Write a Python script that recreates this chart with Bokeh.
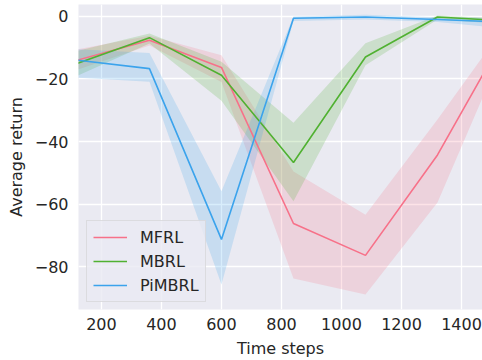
from bokeh.plotting import figure
from bokeh.models import Range1d, FixedTicker, Legend, LegendItem
from bokeh.embed import file_html
from bokeh.resources import INLINE

steps = [120, 360, 600, 840, 1080, 1320, 1560]

mfrl_mean = [-14.0, -7.6, -16.3, -66.2, -76.4, -44.3, -3.5]
mfrl_lo = [-17.0, -9.3, -21.0, -83.8, -88.9, -59.5, -6.0]
mfrl_hi = [-10.5, -6.2, -12.4, -49.6, -63.4, -33.0, -1.0]

mbrl_mean = [-15.0, -6.8, -18.8, -46.7, -13.0, -0.2, -1.5]
mbrl_lo = [-19.0, -8.7, -27.0, -59.1, -15.6, -1.0, -2.5]
mbrl_hi = [-11.0, -5.5, -14.5, -34.0, -8.6, 0.3, -0.8]

pimbrl_mean = [-14.0, -16.7, -71.3, -0.6, -0.2, -1.0, -1.9]
pimbrl_lo = [-19.6, -20.9, -85.7, -1.5, -1.0, -1.8, -4.0]
pimbrl_hi = [-10.5, -11.7, -55.9, 0.0, 0.5, -0.3, -0.5]

names = ["MFRL", "MBRL", "PiMBRL"]
colors = ["#f77189", "#50b131", "#3ba3ec"]
x_ticks = [200, 400, 600, 800, 1000, 1200, 1400]
y_ticks = [0, -20, -40, -60, -80]

TXT = "#262626"
FONT = "DejaVu Sans"

p = figure(width=482, height=360, output_backend="svg", toolbar_location=None,
           x_range=Range1d(123.5, 1470), y_range=Range1d(-93.7, 3.8),
           min_border_left=78, min_border_right=0, min_border_top=4, min_border_bottom=51)
p.background_fill_color = "#EAEAF2"
p.border_fill_color = "white"
p.outline_line_color = None

for ax in (p.xaxis[0], p.yaxis[0]):
    ax.axis_line_color = None
    ax.major_tick_line_color = None
    ax.minor_tick_line_color = None
    ax.major_tick_out = 0
    ax.major_tick_in = 0
    ax.major_label_text_font = FONT
    ax.major_label_text_font_size = "16px"
    ax.major_label_text_color = TXT
    ax.axis_label_text_font = FONT
    ax.axis_label_text_font_size = "16px"
    ax.axis_label_text_font_style = "normal"
    ax.axis_label_text_color = TXT

p.xaxis.ticker = FixedTicker(ticks=x_ticks)
p.yaxis.ticker = FixedTicker(ticks=y_ticks)
p.yaxis.major_label_overrides = {t: (("\u2212" + str(abs(t))) if t < 0 else str(t)) for t in y_ticks}
p.xaxis.axis_label = "Time steps"
p.yaxis.axis_label = "Average return"
p.xaxis.major_label_standoff = 8
p.xaxis.axis_label_standoff = 6
p.yaxis.major_label_standoff = 10
p.yaxis.axis_label_standoff = 6

p.xgrid.grid_line_color = "white"
p.ygrid.grid_line_color = "white"
p.xgrid.grid_line_width = 1.3
p.ygrid.grid_line_width = 1.3

series = [(mfrl_mean, mfrl_lo, mfrl_hi), (mbrl_mean, mbrl_lo, mbrl_hi), (pimbrl_mean, pimbrl_lo, pimbrl_hi)]
items = []
for (m, lo, hi), c, n in zip(series, colors, names):
    p.varea(x=steps, y1=lo, y2=hi, fill_color=c, fill_alpha=0.2)
for (m, lo, hi), c, n in zip(series, colors, names):
    r = p.line(x=steps, y=m, line_color=c, line_width=1.6)
    items.append(LegendItem(label=n, renderers=[r]))

legend = Legend(items=items, location=(8, 7))
legend.label_text_font = FONT
legend.label_text_font_size = "16px"
legend.label_text_color = TXT
legend.glyph_width = 34
legend.glyph_height = 20
legend.label_height = 20
legend.label_standoff = 13
legend.spacing = 4
legend.padding = 6
legend.margin = 0
legend.background_fill_color = "#EAEAF2"
legend.background_fill_alpha = 0.8
legend.border_line_color = "#cccccc"
legend.border_line_width = 1
p.add_layout(legend, "center")

open("out.html", "w").write(file_html(p, INLINE))
